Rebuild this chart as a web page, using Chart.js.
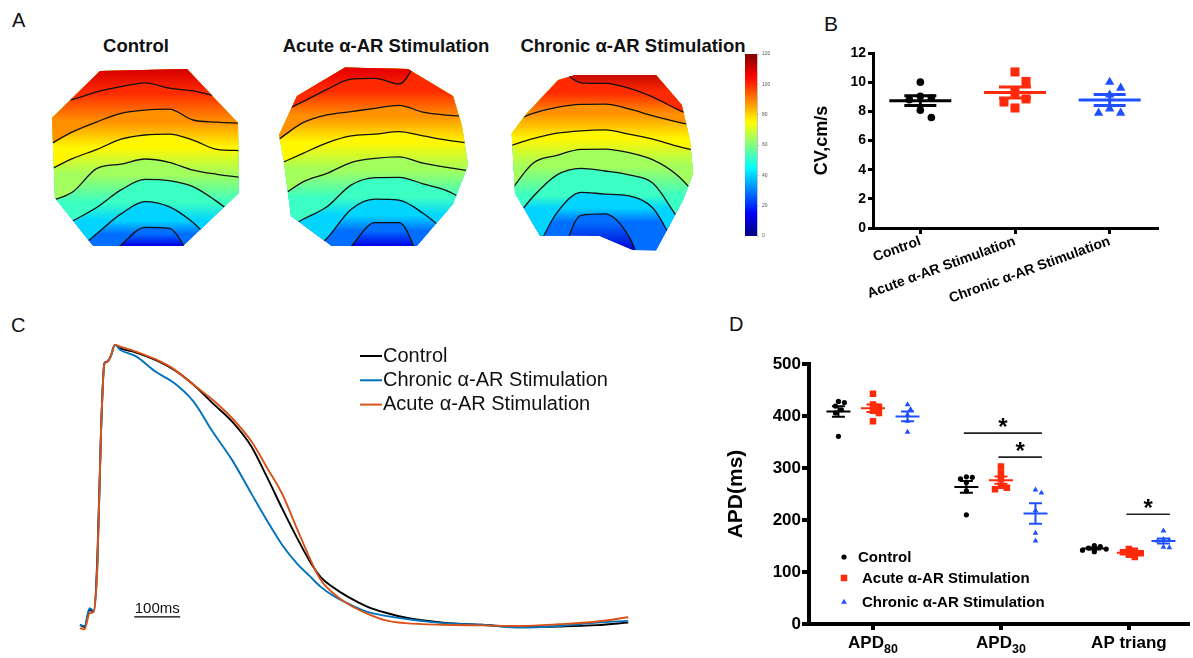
<!DOCTYPE html>
<html>
<head>
<meta charset="utf-8">
<script src="https://cdn.jsdelivr.net/npm/chart.js@4.4.0/dist/chart.umd.min.js"></script>
<style>
  html, body { margin: 0; padding: 0; background: #fff; }
  body { width: 1193px; height: 658px; position: relative; overflow: hidden; font-family: "Liberation Sans", Arial, sans-serif; color: #111; }
  canvas { position: absolute; }
  .panel { position: absolute; font-size: 20px; }
  .title { position: absolute; top: 35px; font-weight: bold; font-size: 18.5px; white-space: nowrap; transform: translateX(-50%); }
</style>
</head>
<body>
<div class="panel" style="left:12px;top:9px">A</div>
<div class="panel" style="left:824px;top:12px;font-size:21px">B</div>
<div class="panel" style="left:11px;top:314px">C</div>
<div class="panel" style="left:729px;top:313px">D</div>
<div class="title" style="left:136px">Control</div>
<div class="title" style="left:386px">Acute α-AR Stimulation</div>
<div class="title" style="left:633px">Chronic α-AR Stimulation</div>

<canvas id="mapCtrl" width="192" height="192" style="left:49px;top:66px"></canvas>
<canvas id="mapAcute" width="192" height="192" style="left:279px;top:66px"></canvas>
<canvas id="mapChronic" width="192" height="192" style="left:509px;top:66px"></canvas>
<canvas id="cbar" width="40" height="195" style="left:740px;top:48px"></canvas>
<canvas id="cvChart" width="403" height="290" style="left:790px;top:40px"></canvas>
<canvas id="apChart" width="570" height="310" style="left:70px;top:330px"></canvas>
<canvas id="apdChart" width="473" height="318" style="left:720px;top:340px"></canvas>

<script>
// ---------- A: activation maps (camera pixels, isochrones in ms) ----------
const isoCols = [0, 8, 16, 24, 32, 40, 48, 56, 64];
const isoLevels = [100, 88, 76, 64, 52, 40, 28];
const cbarTicks = [0, 20, 40, 60, 80, 100, 120];

const ctrlEdge = [[17, 1.7], [46, 1], [63, 19], [63.3, 42.3], [44.7, 60], [14.7, 60], [2, 44], [1, 17.3]];
const ctrlIso = [
  [11.9, 11.1, 8.6, 6.9, 5.6, 7.4, 8.3, 10, 10.8],
  [26.3, 21.9, 18.6, 15.8, 14.7, 14.4, 18, 18.7, 19.1],
  [34.7, 30.8, 27.8, 24.4, 23, 22.7, 24.7, 27.8, 28.2],
  [45.2, 41.9, 34.1, 32.7, 31, 32.1, 34.7, 36.1, 37.1],
  [55.8, 51.6, 47.1, 41.3, 37.8, 38.2, 40.2, 45.2, 51.3],
  [66.9, 62.4, 55.8, 49.3, 45.2, 46.9, 52.2, 60.2, 66.9],
  [75.8, 73.6, 66.9, 59.7, 53.8, 54.1, 64.7, 73.6, 75.8]
];
const ctrlRange = [110, 12];

const acuteEdge = [[22, 0.5], [43, 1], [58, 10], [61, 20], [63, 33], [58, 46], [46, 60], [17.5, 60], [4, 50], [1.5, 31], [0, 23], [6, 10]];
const acuteIso = [
  [15.8, 11.9, 7.8, 4.4, 4.1, 6, -4.2, -6.4, -6.4],
  [24.4, 18.9, 16.3, 15.2, 14.1, 13.1, 15.4, 16.4, 16.9],
  [32.7, 29.1, 25.6, 23.3, 22.7, 21.9, 23.3, 24.7, 25.8],
  [44, 38.6, 35.8, 32.2, 30.8, 30.3, 32.4, 33.8, 35],
  [55.8, 51.1, 46.9, 39.7, 37.2, 37.1, 39.3, 41.6, 45.8],
  [70.2, 64.7, 57.4, 47.8, 44.4, 44.7, 49.1, 55.8, 64.7],
  [78, 75.8, 69.1, 60.2, 52.2, 52.2, 66.9, 78, 78]
];
const acuteRange = [108, 12];

const chronEdge = [[16.4, 4.7], [22, 3], [49, 3], [57.6, 13], [60.3, 24.7], [61.4, 35.8], [58, 44.7], [52, 56], [49, 61.5], [41, 61.3], [30, 56.7], [10.3, 56.6], [2, 42.4], [0.9, 22.4], [5.9, 15.8]];
const chronIso = [
  [-10, -3.1, 0.2, 5.6, 5.8, 7.4, 10.4, 14.4, 18],
  [19.1, 15.8, 13.8, 12.8, 12.7, 14.3, 16.6, 18.6, 20.2],
  [26.7, 24.2, 22.4, 21.6, 21.3, 22.7, 24.4, 26.7, 28.6],
  [42.4, 32.4, 29.8, 27.8, 27.7, 28.9, 31.3, 36.3, 44.7],
  [53.6, 43.6, 36.3, 34.1, 35, 36.3, 39.1, 50.2, 60.2],
  [66.9, 62.4, 48.9, 42.1, 42.7, 43.3, 47.4, 60.2, 66.9],
  [80, 78, 66.9, 49.8, 49.3, 56.9, 75.8, 80, 80]
];
const chronRange = [114, 10];

// ---------- B: conduction velocity ----------
const cvGroups = ['Control', 'Acute α-AR Stimulation', 'Chronic α-AR Stimulation'];
const cvControl = [10.0, 9.03, 8.91, 8.8, 8.08, 7.58];
const cvAcute = [10.7, 10.05, 9.3, 8.85, 8.64, 8.23];
const cvChronic = [10.0, 9.6, 9.13, 8.18, 7.89, 7.89];

// ---------- C: action potential traces (ms, normalised) ----------
const apTimeMs = [2, 12, 23, 32, 40, 48, 55, 61, 69, 78, 90, 124, 166, 207, 249, 291, 333, 375, 408, 441, 475, 500, 525, 550, 583, 625, 667, 709, 792, 876, 960, 1043, 1127, 1194];
const apControl = [0.004, -0.004, 0.057, 0.051, 0.25, 0.70, 0.935, 0.94, 0.96, 1.0, 0.988, 0.973, 0.947, 0.911, 0.858, 0.792, 0.727, 0.638, 0.532, 0.42, 0.31, 0.235, 0.175, 0.14, 0.105, 0.07, 0.047, 0.03, 0.012, 0.004, -0.004, -0.002, 0.003, 0.012];
const apAcute = [-0.008, -0.012, 0.045, 0.051, 0.22, 0.70, 0.93, 0.94, 0.96, 1.0, 0.994, 0.976, 0.949, 0.913, 0.858, 0.804, 0.739, 0.656, 0.565, 0.472, 0.342, 0.247, 0.165, 0.12, 0.08, 0.045, 0.02, 0.01, 0.004, 0.002, 0.0, 0.006, 0.016, 0.031];
const apChronic = [0.004, 0.0, 0.063, 0.054, 0.22, 0.70, 0.93, 0.94, 0.96, 1.0, 0.982, 0.959, 0.905, 0.864, 0.798, 0.69, 0.59, 0.47, 0.377, 0.29, 0.22, 0.18, 0.14, 0.11, 0.081, 0.051, 0.036, 0.025, 0.01, 0.004, -0.006, 0.0, 0.012, 0.018];
const scaleBarMs = [120, 220];

// ---------- D: APD ----------
const apdCats = [['APD', '80'], ['APD', '30'], ['AP triang', '']];
const apd80Control = [428, 426, 419, 412, 406, 361];
const apd80Acute = [443, 422, 418, 410, 406, 390];
const apd80Chronic = [422, 413, 402, 390, 369];
const apd30Control = [283, 282, 279, 272, 256, 210];
const apd30Acute = [303, 291, 279, 266, 262, 259];
const apd30Chronic = [258, 252, 218, 175, 160];
const triangControl = [151, 149, 146, 144, 142, 139];
const triangAcute = [144, 141, 138, 136, 133, 129];
const triangChronic = [179, 163, 161, 160, 148, 147];
// category, from group, to group, bracket height (ms)
const apdSig = [[2, 0, 2, 367], [2, 1, 2, 321], [3, 1, 2, 211]];

// ---------- helpers ----------
const FONT = '"Liberation Sans", Arial, sans-serif';
Chart.defaults.font.family = FONT;
Chart.defaults.color = '#000';
const base = { responsive: false, animation: false, devicePixelRatio: 1, plugins: { legend: { display: false }, tooltip: { enabled: false } } };

function jet(v) {
  const t = Math.min(1, Math.max(0, v / 120));
  const f = c => Math.round(255 * Math.min(1, Math.max(0, 1.5 - Math.abs(4 * t - c))));
  return `rgb(${f(3)},${f(2)},${f(1)})`;
}

// vertical gradient between two values of a y scale, once the scale is laid out
function vGradient(chart, y0, y1, stops) {
  const s = chart.scales.y;
  const p0 = s ? s.getPixelForValue(y0) : NaN, p1 = s ? s.getPixelForValue(y1) : NaN;
  if (!isFinite(p0) || !isFinite(p1) || p0 === p1) return stops[0][1];
  const g = chart.ctx.createLinearGradient(0, p0, 0, p1);
  stops.forEach(([o, c]) => g.addColorStop(o, c));
  return g;
}

const edgeClip = {
  id: 'edgeClip',
  beforeDatasetsDraw(chart) {
    const ds = chart.data.datasets.find(d => d.edge);
    const { x, y } = chart.scales;
    const ctx = chart.ctx;
    ctx.save();
    ctx.beginPath();
    ds.data.forEach((p, i) => {
      const px = x.getPixelForValue(p.x), py = y.getPixelForValue(p.y);
      if (i) ctx.lineTo(px, py); else ctx.moveTo(px, py);
    });
    ctx.closePath();
    ctx.clip();
  },
  afterDatasetsDraw(chart) { chart.ctx.restore(); }
};

function mapChart(id, edge, iso, range) {
  const mid = iso.map(row => {
    const v = row.filter(y => y > 0 && y < 62);
    return v.reduce((a, b) => a + b, 0) / v.length;
  });
  const last = iso.length - 1;
  const bottom = Math.max(...edge.map(p => p[1]));
  const band = (y0, v0, y1, v1) => c => vGradient(c.chart, y0, y1, [[0, jet(v0)], [1, jet(v1)]]);
  const datasets = iso.map((row, k) => ({
    data: isoCols.map((x, i) => ({ x, y: row[i] })),
    showLine: true,
    borderColor: '#111',
    borderWidth: 1.3,
    pointRadius: 0,
    cubicInterpolationMode: 'monotone',
    fill: { value: 0 },
    backgroundColor: k === 0 ? band(mid[0], isoLevels[0], 1, range[0]) : band(mid[k], isoLevels[k], mid[k - 1], isoLevels[k - 1])
  }));
  datasets.push({
    edge: true,
    data: edge.concat([edge[0]]).map(([x, y]) => ({ x, y })),
    showLine: true,
    borderWidth: 0,
    pointRadius: 0,
    fill: 'shape',
    backgroundColor: band(mid[last], isoLevels[last], bottom, range[1])
  });
  return new Chart(document.getElementById(id), {
    type: 'scatter',
    data: { datasets },
    options: {
      ...base,
      layout: { padding: 0 },
      scales: {
        x: { type: 'linear', min: 0, max: 64, display: false },
        y: { type: 'linear', min: 0, max: 64, reverse: true, display: false }
      }
    },
    plugins: [edgeClip]
  });
}

mapChart('mapCtrl', ctrlEdge, ctrlIso, ctrlRange);
mapChart('mapAcute', acuteEdge, acuteIso, acuteRange);
mapChart('mapChronic', chronEdge, chronIso, chronRange);

const cbarStops = [];
for (let v = 0; v <= 120; v += 5) cbarStops.push([v / 120, jet(v)]);

new Chart(document.getElementById('cbar'), {
  type: 'bar',
  data: {
    labels: [''],
    datasets: [{
      data: [[cbarTicks[0], cbarTicks[cbarTicks.length - 1]]],
      barPercentage: 1,
      categoryPercentage: 1,
      borderWidth: 0,
      backgroundColor: c => vGradient(c.chart, 0, 120, cbarStops)
    }]
  },
  options: {
    ...base,
    layout: { padding: { left: 5, top: 5, bottom: 7 } },
    scales: {
      x: { display: false },
      y: {
        position: 'right', min: 0, max: 120,
        afterFit: s => { s.width = 23; },
        ticks: { stepSize: 20, font: { size: 5 }, color: '#555', padding: 3 },
        grid: { drawOnChartArea: false, tickLength: 2, color: '#888', lineWidth: 0.5 },
        border: { color: '#888', width: 0.5 }
      }
    }
  }
});

// beeswarm offsets so overlapping points sit side by side
function swarm(values, gap, step, pxX, pxY) {
  const placed = [];
  return values.map(v => {
    for (let s = 0; s < 40; s++) {
      const dx = (s % 2 ? 1 : -1) * Math.ceil(s / 2) * step;
      if (placed.every(p => Math.hypot(p.dx - dx, (p.v - v) * pxY) >= gap)) {
        placed.push({ dx, v });
        return dx / pxX;
      }
    }
    return 0;
  });
}

function drawMarker(ctx, style, x, y, r) {
  ctx.beginPath();
  if (style === 'circle') ctx.arc(x, y, r, 0, Math.PI * 2);
  else if (style === 'rect') { const h = r * Math.SQRT1_2; ctx.rect(x - h, y - h, 2 * h, 2 * h); }
  else { ctx.moveTo(x, y - r); ctx.lineTo(x + r * 0.866, y + r / 2); ctx.lineTo(x - r * 0.866, y + r / 2); ctx.closePath(); }
  ctx.fill();
}

const groupColor = ['#000000', '#ff2a0a', '#1f50ff'];
const groupShape = ['circle', 'rect', 'triangle'];

// mean line with SEM bars for every dataset
function meanSem(meanHalf, capHalf, width) {
  return {
    id: 'meanSem',
    afterDatasetsDraw(chart) {
      const { ctx, scales: { x, y } } = chart;
      ctx.save();
      ctx.lineWidth = width;
      chart.data.datasets.forEach(ds => {
        const v = ds.values, n = v.length;
        const m = v.reduce((a, b) => a + b, 0) / n;
        const sem = Math.sqrt(v.reduce((a, b) => a + (b - m) ** 2, 0) / (n - 1)) / Math.sqrt(n);
        const cx = x.getPixelForValue(ds.center);
        const ym = y.getPixelForValue(m), yh = y.getPixelForValue(m + sem), yl = y.getPixelForValue(m - sem);
        ctx.strokeStyle = ds.backgroundColor;
        ctx.beginPath();
        ctx.moveTo(cx - meanHalf, ym); ctx.lineTo(cx + meanHalf, ym);
        ctx.moveTo(cx - capHalf, yh); ctx.lineTo(cx + capHalf, yh);
        ctx.moveTo(cx - capHalf, yl); ctx.lineTo(cx + capHalf, yl);
        ctx.moveTo(cx, yh); ctx.lineTo(cx, yl);
        ctx.stroke();
      });
      ctx.restore();
    }
  };
}

function groupSet(values, center, g, radius, spread) {
  const off = swarm(values, ...spread);
  return {
    values, center,
    data: values.map((v, i) => ({ x: center + off[i], y: v })),
    pointStyle: groupShape[g],
    pointRadius: radius[g],
    pointBorderWidth: 0,
    backgroundColor: groupColor[g],
    borderColor: groupColor[g]
  };
}

// ---------- B ----------
const cvRadius = [3.8, 6.4, 5.4];
const cvSets = [cvControl, cvAcute, cvChronic].map((vals, g) => groupSet(vals, g + 1, g, cvRadius, [11, 11, 94.5, 14.58]));

new Chart(document.getElementById('cvChart'), {
  type: 'scatter',
  data: { datasets: cvSets },
  options: {
    ...base,
    layout: { padding: { top: 13, right: 36 } },
    scales: {
      x: {
        type: 'linear', min: 0.5, max: 3.5,
        afterBuildTicks: s => { s.ticks = [1, 2, 3].map(value => ({ value })); },
        afterFit: s => { s.height = 102; },
        ticks: { callback: v => cvGroups[v - 1], autoSkip: false, minRotation: 20, maxRotation: 20, font: { size: 14, weight: 'bold' }, padding: -1 },
        grid: { drawOnChartArea: false, tickLength: 6, color: '#000', lineWidth: 3 },
        border: { color: '#000', width: 3 }
      },
      y: {
        min: 0, max: 12,
        afterFit: s => { s.width = 83; },
        ticks: { stepSize: 2, font: { size: 14, weight: 'bold' }, padding: 2 },
        grid: { drawOnChartArea: false, tickLength: 5, color: '#000', lineWidth: 3 },
        border: { color: '#000', width: 3 },
        title: { display: true, text: 'CV,cm/s', font: { size: 18, weight: 'bold' }, padding: { top: 21, bottom: 0 } }
      }
    }
  },
  plugins: [meanSem(31, 16, 3)]
});

// ---------- C ----------
const apLegend = {
  id: 'apLegend',
  afterDraw(chart) {
    const ctx = chart.ctx;
    const items = [['Control', '#000000'], ['Chronic α-AR Stimulation', '#0072bd'], ['Acute α-AR Stimulation', '#d95319']];
    ctx.save();
    ctx.font = '20px ' + FONT;
    ctx.textBaseline = 'middle';
    items.forEach(([t, c], i) => {
      const yy = 26 + i * 24.3;
      ctx.strokeStyle = c; ctx.lineWidth = 2;
      ctx.beginPath(); ctx.moveTo(290, yy); ctx.lineTo(312, yy); ctx.stroke();
      ctx.fillStyle = '#111';
      ctx.fillText(t, 313, yy);
    });
    const { x, y } = chart.scales;
    const x0 = x.getPixelForValue(scaleBarMs[0]), x1 = x.getPixelForValue(scaleBarMs[1]);
    const yb = y.getPixelForValue(0.032);
    ctx.strokeStyle = '#000'; ctx.lineWidth = 1.3;
    ctx.beginPath(); ctx.moveTo(x0, yb); ctx.lineTo(x1, yb); ctx.stroke();
    ctx.font = '15px ' + FONT;
    ctx.textAlign = 'center';
    ctx.textBaseline = 'alphabetic';
    ctx.fillText((scaleBarMs[1] - scaleBarMs[0]) + 'ms', (x0 + x1) / 2, yb - 4);
    ctx.restore();
  }
};

const apLine = (data, color) => ({
  data: apTimeMs.map((t, i) => ({ x: t, y: data[i] })),
  borderColor: color, borderWidth: 1.9, pointRadius: 0, cubicInterpolationMode: 'monotone', fill: false
});

new Chart(document.getElementById('apChart'), {
  type: 'line',
  data: { datasets: [apLine(apAcute, '#d95319'), apLine(apChronic, '#0072bd'), apLine(apControl, '#000000')] },
  options: {
    ...base,
    layout: { padding: 0 },
    scales: {
      x: { type: 'linear', min: -19.6, max: 1219.6, display: false },
      y: { min: -0.05, max: 1.053, display: false }
    }
  },
  plugins: [apLegend]
});

// ---------- D ----------
const apdGroupOffset = [-0.27, 0, 0.27];
const apdRadius = [2.6, 4.6, 3.3];
const apdData = [[apd80Control, apd80Acute, apd80Chronic], [apd30Control, apd30Acute, apd30Chronic], [triangControl, triangAcute, triangChronic]];
const apdSets = [];
apdData.forEach((groups, c) => groups.forEach((vals, g) => apdSets.push(groupSet(vals, c + 1 + apdGroupOffset[g], g, apdRadius, [5, 3, 129.5, 0.5194]))));

const apdDecor = {
  id: 'apdDecor',
  afterDraw(chart) {
    const { ctx, scales: { x, y }, chartArea } = chart;
    ctx.save();
    ctx.fillStyle = '#000';
    // category labels with subscripts
    apdCats.forEach(([main, sub], i) => {
      ctx.font = 'bold 17px ' + FONT;
      const w1 = ctx.measureText(main).width;
      ctx.font = 'bold 12.5px ' + FONT;
      const w2 = sub ? ctx.measureText(sub).width : 0;
      const left = x.getPixelForValue(i + 1) - (w1 + w2) / 2;
      ctx.font = 'bold 17px ' + FONT;
      ctx.fillText(main, left, chartArea.bottom + 24);
      if (sub) { ctx.font = 'bold 12.5px ' + FONT; ctx.fillText(sub, left + w1, chartArea.bottom + 29); }
    });
    // significance brackets
    ctx.strokeStyle = '#222';
    ctx.lineWidth = 1.6;
    ctx.textAlign = 'center';
    apdSig.forEach(([c, g1, g2, h]) => {
      const xa = x.getPixelForValue(c + apdGroupOffset[g1] - 0.02);
      const xb = x.getPixelForValue(c + apdGroupOffset[g2] + 0.05);
      const yy = y.getPixelForValue(h);
      ctx.beginPath(); ctx.moveTo(xa, yy); ctx.lineTo(xb, yy); ctx.stroke();
      ctx.font = 'bold 24px ' + FONT;
      ctx.fillText('*', (xa + xb) / 2, yy + 2);
    });
    // legend
    ctx.textAlign = 'left';
    ctx.textBaseline = 'middle';
    ctx.font = 'bold 15px ' + FONT;
    const names = ['Control', 'Acute α-AR Stimulation', 'Chronic α-AR Stimulation'];
    const rows = [217, 238, 262];
    const textX = [138, 142, 142];
    names.forEach((n, g) => {
      ctx.fillStyle = groupColor[g];
      drawMarker(ctx, groupShape[g], 124, rows[g], apdRadius[g]);
      ctx.fillStyle = '#000';
      ctx.fillText(n, textX[g], rows[g] + 1);
    });
    ctx.restore();
  }
};

new Chart(document.getElementById('apdChart'), {
  type: 'scatter',
  data: { datasets: apdSets },
  options: {
    ...base,
    layout: { padding: { top: 24 } },
    scales: {
      x: {
        type: 'linear', min: 0.5, max: 3.465,
        afterBuildTicks: s => { s.ticks = [1, 2, 3].map(value => ({ value })); },
        afterFit: s => { s.height = 34; },
        ticks: { callback: () => '', autoSkip: false, maxRotation: 0 },
        grid: { drawOnChartArea: false, tickLength: 6, color: '#000', lineWidth: 4 },
        border: { color: '#000', width: 4 }
      },
      y: {
        min: 0, max: 500,
        afterFit: s => { s.width = 89; },
        ticks: { stepSize: 100, font: { size: 17, weight: 'bold' }, padding: 1 },
        grid: { drawOnChartArea: false, tickLength: 7, color: '#000', lineWidth: 4 },
        border: { color: '#000', width: 4 },
        title: { display: true, text: 'APD(ms)', font: { size: 21, weight: 'bold' }, padding: { top: 4, bottom: 0 } }
      }
    }
  },
  plugins: [meanSem(12, 6.5, 2), apdDecor]
});
</script>
</body>
</html>
